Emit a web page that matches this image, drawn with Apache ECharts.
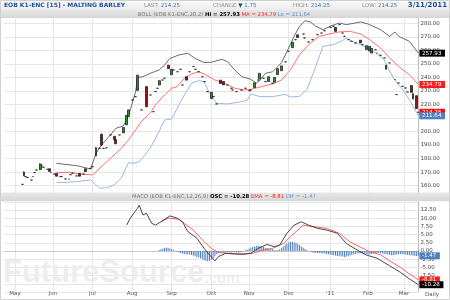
<!DOCTYPE html>
<html><head><meta charset="utf-8">
<script src="https://cdn.jsdelivr.net/npm/echarts@6/dist/echarts.min.js"></script>
<style>html,body{margin:0;padding:0;background:#fff}#c{width:450px;height:300px}</style>
</head><body><div id="c"></div>
<script>
// ---- categories / ticks ----
const startDate = '2010-04-23';
const endDate = '2011-03-11';
const tickLabels = ['May','Jun','Jul','Aug','Sep','Oct','Nov','Dec',"'11",'Feb','Mar'];

// ---- candles: [dayIndex, open, close, low, high] ----
const candles = [
[10,161,161,161,161],[11,170,167.5,167,170.5],[12,166.7,166.7,166.7,166.7],[13,166,166,166,166],
[15,164.2,164.2,164.2,164.2],[16,166.7,166.7,166.7,166.7],[17,169.6,169.6,169.6,169.6],[18,171.6,171.6,171.6,171.6],
[20,172,176,171.5,176.5],[21,174.5,174.5,174.5,174.5],[22,173.6,173.6,173.6,173.6],[24,172.1,172.1,172.1,172.1],
[25,172.5,170.5,170.5,172.5],[26,169.6,169.6,169.6,169.6],[28,168.6,168.6,168.6,168.6],[29,169,167,167,169],
[31,166.7,166.7,166.7,166.7],[32,166.7,166.7,166.7,166.7],[34,165,165,165,165],[36,164.8,164.8,164.8,164.8],
[37,168.1,168.1,168.1,168.1],[38,169.2,169.2,169.2,169.2],[40,167.2,167.2,167.2,167.2],[42,169,167,167,169],
[44,168.6,168.6,168.6,168.6],[45,172.5,170.5,170,172.5],[48,172.8,172.8,172.8,172.8],[49,174,174,174,174],
[51,182,188,182,188.5],[53,187.6,187.6,187.6,187.6],[54,198,190,189.5,198.5],[55,187.6,187.6,187.6,187.6],
[57,188,188,188,188],[59,197.5,197.5,197.5,197.5],[61,196.5,194,194,196.5],[62,194,191,191,194],
[64,197.5,197.5,197.5,197.5],[66,199,203,199,203],[68,205,212,205,212],[69,211,216,211,216],
[71,223.3,223.3,223.3,223.3],[73,225.8,225.8,225.8,225.8],[74,230.5,241.6,230,242],[76,216,216,216,216],
[79,233.2,218.4,218,233.5],[81,227,227,227,227],[83,214.7,214.7,214.7,214.7],[84,229.5,229.5,229.5,229.5],
[85,232,232,232,232],[86,234.5,237.5,234,238],[88,238.1,238.1,238.1,238.1],[89,239.4,239.4,239.4,239.4],
[91,249,246.5,246.5,249],[93,242,246,242,246],[94,245.5,245.5,245.5,245.5],[96,244.2,244.2,244.2,244.2],
[98,246,246,246,246],[99,234.4,234.4,234.4,234.4],[101,240.5,238,238,240.5],[103,244.2,244.2,244.2,244.2],
[105,248,248,248,248],[106,246,246,246,246],[108,244.2,244.2,244.2,244.2],[110,240.5,240.5,240.5,240.5],
[111,236.9,236.9,236.9,236.9],[113,229.5,229.5,229.5,229.5],[115,224.5,229,224,229],[116,225.8,225.8,225.8,225.8],
[118,220.4,220.4,220.4,220.4],[120,238,235.5,235.5,238],[122,237,234.5,234.5,237],[124,234.4,234.4,234.4,234.4],
[126,232,232,232,232],[127,230.7,230.7,230.7,230.7],[129,229.5,229.5,229.5,229.5],[132,230.7,230.7,230.7,230.7],
[134,232,232,232,232],[136,230.2,230.2,230.2,230.2],[137,230.7,230.7,230.7,230.7],[139,232.5,236,232.5,236],
[141,238.1,238.1,238.1,238.1],[142,239,243,239,243],[144,239.4,239.4,239.4,239.4],[145,236.9,236.9,236.9,236.9],
[147,237,240.5,237,240.5],[149,235.7,235.7,235.7,235.7],[150,236.5,240,236.5,240],[152,242,246.5,242,246.5],
[154,245,248.5,245,248.5],[156,251.5,251.5,251.5,251.5],[158,259.3,259.3,259.3,259.3],[160,262,266,262,266],
[162,267.9,267.9,267.9,267.9],[163,271.5,269.5,269.5,271.5],[166,272.1,272.1,272.1,272.1],[167,269.1,269.1,269.1,269.1],
[169,266.2,266.2,266.2,266.2],[171,267.9,267.9,267.9,267.9],[174,271.6,271.6,271.6,271.6],[176,272.8,272.8,272.8,272.8],
[178,274.5,274.5,274.5,274.5],[181,277,277,277,277],[183,277.8,277.8,277.8,277.8],[184,277,274,274,277],
[186,279,279,279,279],[188,272.8,272.8,272.8,272.8],[189,270.4,270.4,270.4,270.4],[191,267.9,267.9,267.9,267.9],
[193,266.7,266.7,266.7,266.7],[195,265.4,265.4,265.4,265.4],[198,267.5,265.5,265.5,267.5],[199,264.2,264.2,264.2,264.2],
[201,260.5,263.5,260.5,263.5],[203,259.5,263,259.5,263],[204,258,261.5,258,261.5],[206,260.5,260.5,260.5,260.5],
[207,258,258,258,258],[209,256.4,256.4,256.4,256.4],[211,254.4,254.4,254.4,254.4],[212,246,249,246,249],
[214,250.7,250.7,250.7,250.7],[217,238.4,238.4,238.4,238.4],[218,227.3,227.3,227.3,227.3],[219,235.9,235.9,235.9,235.9],
[221,233.4,233.4,233.4,233.4],[223,232.2,232.2,232.2,232.2],[224,229.2,229.2,229.2,229.2],[226,234,229,229,234],
[227,228,224,224,228],[229,226.5,217,217,226.5],[230,214.25,214.25,214.25,214.25]
];

// ---- Bollinger bands: [dayIndex, value] ----
const bollUpper = [[29,176.5],[41,174.6],[48,172.3],[51,184],[54,190],[59,197.5],[62,202.4],[66,204.1],[68,208.5],[70,216],[73,229.5],[74,240],[77,240.5],[81,243],[86,245.5],[89,249],[92,254],[97,256.6],[102,257.8],[106,254],[111,251],[115,251.2],[121,253.4],[124,251.6],[128,245.5],[132,240.5],[137,238.6],[140,235.7],[142,238],[145,243],[149,244.2],[152,248],[154,251],[157,259],[161,270.4],[164,277.8],[167,281.9],[170,281],[173,277.8],[177,275.3],[181,277.8],[186,280.2],[190,279],[198,281],[202,279.5],[209,275.3],[214,270.4],[217,273.6],[219,270.4],[225,266.7],[230,257.93]];
const bollMid = [[29,169.6],[36,169.9],[42,168.6],[49,168],[51,170.3],[56,176.5],[61,182.7],[65,187.6],[69,193.8],[73,201.2],[76,207.3],[81,213.5],[84,219.6],[89,227],[93,232],[96,233.2],[100,239.4],[104,242.5],[108,244.2],[111,242.5],[117,238.1],[123,235.2],[128,232],[133,230.7],[137,231.2],[143,233.2],[149,235.2],[154,238.1],[159,245.7],[164,256.8],[170,265.4],[175,270.4],[181,272.3],[186,273.6],[192,274.1],[198,272.1],[203,267.9],[209,261.7],[214,254.4],[220,247],[225,242],[230,234.79]];
const bollLower = [[29,162.2],[35,162.5],[40,163],[48,164.2],[50,161.8],[53,158.1],[57,158.5],[61,160.5],[65,165.5],[69,177],[72,176.5],[75,177.7],[78,182.5],[81,187.6],[82,190],[86,200],[89,208.5],[93,209.3],[97,219.6],[100,227],[104,235.7],[108,237.6],[111,236.9],[114,228.3],[118,220.9],[124,220.4],[132,222.1],[135,223.3],[137,227.8],[142,225.8],[149,225.8],[156,227.5],[159,225.5],[164,226],[168,230.9],[172,244.5],[177,263],[183,264.2],[187,266.7],[190,269.1],[193,266.7],[198,264.2],[205,259.3],[211,253.1],[216,239.6],[222,229.8],[226,221.1],[230,211.64]];

// ---- MACD ----
const macdLine = [[68,7.9],[70,10],[74,13],[75,14],[77,11],[79,11.5],[82,8.4],[84,7.9],[87,8.9],[92,10.7],[96,10],[99,8.9],[102,5.9],[107,3.9],[111,0.8],[114,-1.2],[117,-3],[119,-1.7],[123,-0.7],[127,-0.9],[133,-1],[137,-0.7],[141,0.8],[146,2],[150,1.3],[153,1.8],[157,5.4],[161,7.9],[165,8.9],[169,7.9],[174,6.9],[179,6.4],[185,5.4],[190,2.3],[196,0.3],[201,-1.2],[207,-2.2],[214,-4.5],[220,-6.5],[225,-8.5],[230,-10.28]];
const signalLine = [[87,8.9],[91,10],[97,9.7],[100,8.4],[105,6.4],[110,3.4],[115,0.8],[119,-0.5],[124,-0.7],[131,-0.9],[138,-0.7],[144,0.3],[149,0.8],[155,2.3],[161,5.4],[166,7.9],[172,7.4],[179,6.9],[186,5.4],[192,2.8],[198,1.1],[203,-0.2],[209,-1.2],[214,-3],[220,-5],[225,-7],[230,-8.81]];
const histStart = 86;
const histValues = [0.3,0.5,0.7,0.9,1.0,1.0,0.8,0.6,0.4,0.1,-0.2,-0.4,-0.6,-0.8,-0.9,-1.0,-1.1,-1.1,-1.2,-1.4,
-1.6,-1.8,-2.0,-2.2,-2.5,-2.8,-3.0,-3.1,-3.0,-2.7,-2.2,-1.6,-1.0,-0.6,-0.4,-0.4,-0.5,-0.4,-0.3,-0.4,
-0.5,-0.4,-0.3,-0.4,-0.5,-0.4,-0.2,0.0,0.2,0.4,0.7,1.0,1.2,1.4,1.5,1.6,1.5,1.3,1.2,1.0,
0.9,0.8,0.6,0.5,0.3,0.2,0.3,0.5,0.9,1.4,1.9,2.3,2.6,2.8,2.8,2.7,2.5,2.2,1.8,1.4,
1.0,0.6,0.3,0.0,-0.2,-0.4,-0.5,-0.6,-0.6,-0.7,-0.7,-0.8,-0.8,-0.9,-1.0,-1.1,-1.2,-1.3,-1.4,-1.5,
-1.6,-1.7,-1.7,-1.8,-1.7,-1.6,-1.4,-1.2,-1.0,-0.9,-0.8,-0.8,-0.7,-0.7,-0.8,-0.9,-1.0,-1.0,-0.9,-0.8,
-0.7,-0.6,-0.6,-0.7,-0.8,-0.9,-1.0,-1.1,-1.2,-1.3,-1.3,-1.2,-1.1,-1.0,-0.9,-0.9,-1.0,-1.1,-1.2,-1.3,
-1.4,-1.4,-1.5,-1.5,-1.47];

// ---- header / last values ----
const quote = {name:'EOB K1-ENC [15] - MALTING BARLEY', last:'214.25', change:'1.75', high:'214.25', low:'214.25', date:'3/11/2011'};
const bollLast = [257.93, 234.79, 211.64];
const lastPrice = 214.25;
const macdLast = [-10.28, -8.81, -1.47];

// ---- build ----
const dates = [];
for (let t = Date.parse(startDate + 'T00:00:00Z'); t <= Date.parse(endDate + 'T00:00:00Z'); t += 86400000) {
  const d = new Date(t), wd = d.getUTCDay();
  if (wd !== 0 && wd !== 6) dates.push(d.toISOString().slice(0, 10));
}
const monthStart = {};
let k = 0;
for (let i = 1; i < dates.length; i++) if (dates[i].slice(5, 7) !== dates[i - 1].slice(5, 7)) monthStart[i] = tickLabels[k++];
const isTick = (i) => monthStart[i] !== undefined;
const histData = histValues.map((v, i) => [histStart + i, v]);

const FONT = 'DejaVu Sans';
const GRID_L = 4.2, GRID_R = 31.6;
const clearLine = {color: 'rgba(255,255,255,0)', width: 1, type: 'solid'};
const boxLabel = (bg) => ({show: true, position: 'end', distance: 1, color: '#fff', backgroundColor: bg,
  padding: [1, 3.5, 0, 2.5], fontFamily: FONT, fontSize: 5.6, formatter: (p) => Number(p.value).toFixed(2)});
const markLines = (items) => ({silent: true, symbol: ['none', 'none'], animation: false, precision: 2,
  lineStyle: clearLine,
  data: items.map(([v, bg]) => ({yAxis: v, label: boxLabel(bg), lineStyle: clearLine}))});
const gridLine = {show: true, lineStyle: {color: '#e6e6e6', width: 1}};

const chart = echarts.init(document.getElementById('c'), null, {renderer: 'canvas'});
chart.setOption({
  animation: false,
  backgroundColor: '#fff',
  grid: [
    {left: GRID_L, right: GRID_R, top: 9.77, height: 189.43},
    {left: GRID_L, right: GRID_R, top: 201.8, height: 90.2}
  ],
  xAxis: [
    {type: 'category', gridIndex: 0, data: dates, boundaryGap: false,
     axisLine: {show: false}, axisTick: {show: false}, axisLabel: {show: false},
     splitLine: Object.assign({interval: isTick}, gridLine)},
    {type: 'category', gridIndex: 1, data: dates, boundaryGap: false,
     axisLine: {show: true, lineStyle: {color: '#c8c8c8'}}, axisTick: {show: false},
     axisLabel: {show: true, interval: isTick, formatter: (v, i) => monthStart[i] || '', margin: -1,
       color: '#555', fontFamily: FONT, fontSize: 5.5},
     splitLine: Object.assign({interval: isTick}, gridLine)}
  ],
  yAxis: [
    {type: 'value', gridIndex: 0, position: 'right', min: 150, max: 290, interval: 10,
     axisLine: {show: true, lineStyle: {color: '#bdbdbd'}}, axisTick: {show: false},
     axisLabel: {showMinLabel: false, showMaxLabel: false, margin: 2, color: '#444', fontFamily: FONT, fontSize: 5.5,
       formatter: (v) => v.toFixed(2)},
     splitLine: gridLine},
    {type: 'value', gridIndex: 1, position: 'right', min: -12.5, max: 15, interval: 2.5,
     axisLine: {show: true, lineStyle: {color: '#bdbdbd'}}, axisTick: {show: false},
     axisLabel: {showMinLabel: false, showMaxLabel: false, margin: 2, color: '#444', fontFamily: FONT, fontSize: 5.5,
       formatter: (v) => v.toFixed(2)},
     splitLine: gridLine}
  ],
  series: [
    {type: 'line', name: 'upper', xAxisIndex: 0, yAxisIndex: 0, data: bollUpper, symbol: 'none',
     lineStyle: {color: '#5a5a5a', width: 0.9}, z: 3},
    {type: 'line', name: 'ma', xAxisIndex: 0, yAxisIndex: 0, data: bollMid, symbol: 'none',
     lineStyle: {color: '#ff6060', width: 0.9}, z: 3},
    {type: 'candlestick', name: 'price', xAxisIndex: 0, yAxisIndex: 0, data: candles,
     encode: {x: 0, y: [1, 2, 3, 4]}, barWidth: 2.4, z: 4,
     itemStyle: {color: '#2b8f2b', color0: '#8c1414', borderColor: '#111', borderColor0: '#111', borderWidth: 0.7}},
    {type: 'line', name: 'lower', xAxisIndex: 0, yAxisIndex: 0, data: bollLower, symbol: 'none',
     lineStyle: {color: '#8fb0dc', width: 0.9}, z: 3,
     markLine: markLines([[bollLast[0], '#000'], [bollLast[1], '#ff1a1a'], [lastPrice, '#ee1111'], [bollLast[2], '#4f7fbd']])},
    {type: 'bar', name: 'dif', xAxisIndex: 1, yAxisIndex: 1, data: histData, barWidth: 1,
     itemStyle: {color: '#4f7fbf'}, z: 2},
    {type: 'line', name: 'ema', xAxisIndex: 1, yAxisIndex: 1, data: signalLine, symbol: 'none',
     lineStyle: {color: '#ff5050', width: 0.9}, z: 3},
    {type: 'line', name: 'osc', xAxisIndex: 1, yAxisIndex: 1, data: macdLine, symbol: 'none',
     lineStyle: {color: '#333', width: 0.9}, z: 4,
     markLine: markLines([[macdLast[2], '#4f7fbd'], [macdLast[1], '#ff1a1a'], [macdLast[0], '#000']])}
  ],
  graphic: [
    {type: 'text', z: 1, left: 3, top: 258, silent: true,
     style: {text: '{a|FutureSource}{b|.com}', rich: {
       a: {fontFamily: 'Liberation Sans', fontWeight: 'bold', fontSize: 31, fill: '#ededed'},
       b: {fontFamily: 'Liberation Sans', fontWeight: 'bold', fontSize: 15, fill: '#ededed', padding: [10, 0, 0, 0]}}}},
    {type: 'rect', z: 100, shape: {x: 0, y: 0, width: 450, height: 10},
     style: {fill: new echarts.graphic.LinearGradient(0, 0, 0, 1, [{offset: 0, color: '#fbfbfb'}, {offset: 1, color: '#ececec'}])}},
    {type: 'rect', z: 100, shape: {x: 0, y: 10, width: 450, height: 8},
     style: {fill: new echarts.graphic.LinearGradient(0, 0, 0, 1, [{offset: 0, color: '#e8e8e8'}, {offset: 1, color: '#d6d6d6'}])}},
    {type: 'rect', z: 100, shape: {x: 0, y: 192.5, width: 450, height: 8.8},
     style: {fill: new echarts.graphic.LinearGradient(0, 0, 0, 1, [{offset: 0, color: '#e8e8e8'}, {offset: 1, color: '#d6d6d6'}])}},
    {type: 'text', z: 101, x: 4, y: 5.5, style: {text: quote.name, fill: '#1d4f9c', fontFamily: FONT, fontWeight: 'bold', fontSize: 6, verticalAlign: 'middle'}},
    {type: 'text', z: 101, x: 144, y: 5.5, style: {text: '{g|LAST: }{v|' + quote.last + '}', verticalAlign: 'middle',
      rich: {g: {fill: '#8c8c8c', fontFamily: FONT, fontSize: 5.5}, v: {fill: '#3c6cb0', fontFamily: FONT, fontSize: 5.5}}}},
    {type: 'text', z: 101, x: 213, y: 5.5, style: {text: '{g|CHANGE }{a|▼}{v| ' + quote.change + '}', verticalAlign: 'middle',
      rich: {g: {fill: '#8c8c8c', fontFamily: FONT, fontSize: 5.5}, a: {fill: '#1d3f8c', fontFamily: FONT, fontSize: 5.5}, v: {fill: '#3c6cb0', fontFamily: FONT, fontSize: 5.5}}}},
    {type: 'text', z: 101, x: 293, y: 5.5, style: {text: '{g|HIGH: }{v|' + quote.high + '}', verticalAlign: 'middle',
      rich: {g: {fill: '#8c8c8c', fontFamily: FONT, fontSize: 5.5}, v: {fill: '#3c6cb0', fontFamily: FONT, fontSize: 5.5}}}},
    {type: 'text', z: 101, x: 362, y: 5.5, style: {text: '{g|LOW: }{v|' + quote.low + '}', verticalAlign: 'middle',
      rich: {g: {fill: '#8c8c8c', fontFamily: FONT, fontSize: 5.5}, v: {fill: '#3c6cb0', fontFamily: FONT, fontSize: 5.5}}}},
    {type: 'text', z: 101, x: 447, y: 5.5, style: {text: quote.date, fill: '#1d4f9c', fontFamily: FONT, fontWeight: 'bold', fontSize: 7, align: 'right', verticalAlign: 'middle'}},
    {type: 'text', z: 101, x: 224, y: 14.3, style: {
      text: '{g|BOLL (EOB K1-ENC,20,2) }{k|Hi = ' + bollLast[0].toFixed(2) + '}{r| MA = ' + bollLast[1].toFixed(2) + '}{b| Lo = ' + bollLast[2].toFixed(2) + '}',
      align: 'center', verticalAlign: 'middle',
      rich: {g: {fill: '#777', fontFamily: FONT, fontSize: 5.3}, k: {fill: '#000', fontWeight: 'bold', fontFamily: FONT, fontSize: 5.3},
             r: {fill: '#f22', fontFamily: FONT, fontSize: 5.3}, b: {fill: '#5b8ccc', fontFamily: FONT, fontSize: 5.3}}}},
    {type: 'text', z: 101, x: 224, y: 197, style: {
      text: '{g|MACD (EOB K1-ENC,12,26,9) }{k|OSC = ' + macdLast[0].toFixed(2) + '}{r| EMA = ' + macdLast[1].toFixed(2) + '}{b| DIF = ' + macdLast[2].toFixed(2) + '}',
      align: 'center', verticalAlign: 'middle',
      rich: {g: {fill: '#777', fontFamily: FONT, fontSize: 5.3}, k: {fill: '#000', fontWeight: 'bold', fontFamily: FONT, fontSize: 5.3},
             r: {fill: '#f22', fontFamily: FONT, fontSize: 5.3}, b: {fill: '#5b8ccc', fontFamily: FONT, fontSize: 5.3}}}},
    {type: 'text', z: 101, x: 432, y: 294.5, style: {text: 'Daily', fill: '#555', fontFamily: FONT, fontSize: 5.5, align: 'center', verticalAlign: 'middle'}},
    {type: 'rect', z: 102, shape: {x: 0.5, y: 0.5, width: 449, height: 299}, style: {fill: null, stroke: '#d0d0d0', lineWidth: 1}}
  ]
});
</script></body></html>
